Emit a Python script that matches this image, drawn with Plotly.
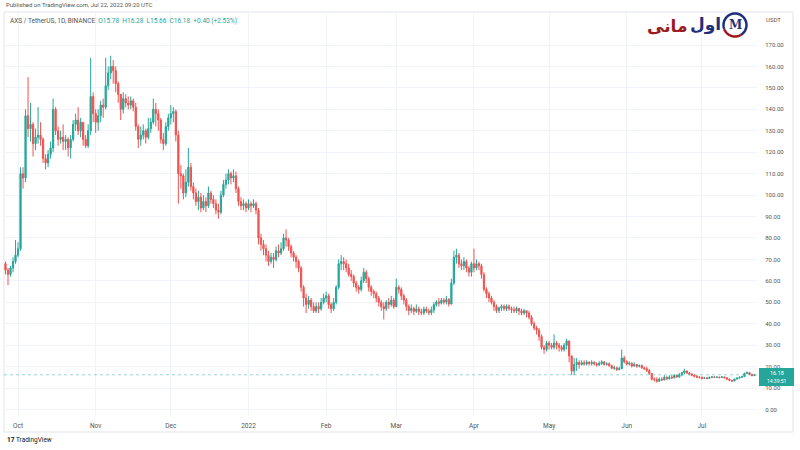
import math
import pandas as pd
import plotly.graph_objects as go

# ---------------- data (AXS/USDT daily) ----------------
start_date = "2021-09-26"
first_open = 68

closes = [
    65, 63, 66, 69, 72, 75, 110, 108, 137, 131,
    133, 124, 127, 128, 126, 117, 115, 119, 122, 140,
    130, 126, 127, 125, 126, 122, 126, 133, 135, 130,
    134, 126, 123, 130, 146, 138, 134, 137, 142, 141,
    151, 157, 160, 158, 152, 147, 140, 145, 143, 142,
    144, 141, 132, 126, 128, 130, 127, 131, 134, 140,
    138, 135, 126, 124, 132, 136, 138, 139, 128, 110,
    109, 101, 106, 113, 104, 101, 97, 99, 94, 97,
    95, 101, 98, 96, 93, 92, 100, 105, 107, 110,
    108, 109, 103, 97, 95, 96, 94, 96, 95, 96,
    93, 80, 77, 75, 72, 69, 71, 70, 74, 73,
    75, 80, 79, 76, 73, 71, 69, 66, 57, 52,
    49, 51, 48, 46, 48, 47, 50, 52, 53, 49,
    47, 50, 57, 68, 69, 68, 66, 63, 62, 59,
    57, 56, 60, 64, 61, 57, 55, 54, 52, 50,
    48, 47, 50, 49, 51, 48, 57, 56, 53, 51,
    48.0, 46.2, 47.1, 45.8, 46.9, 45.6, 45.1, 46.8, 45.9, 45.2,
    46.4, 48.9, 50.2, 49.6, 51.0, 50.1, 51.3, 49.2, 59, 71,
    72, 68, 67, 69, 66, 64, 68, 66, 68, 67,
    63, 56, 54, 52, 50, 48, 46.2, 47.4, 48.1, 47.0,
    48.2, 47.1, 46.5, 46.0, 47.2, 45.9, 45.0, 46.1, 45.0, 43,
    40, 38, 37, 34, 29, 28, 31, 30, 29, 31,
    30, 29, 28, 30, 32, 25, 18, 21, 22, 21,
    21.8, 21.2, 22.1, 21.4, 22.0, 21.3, 20.8, 21.5, 22.2, 21.0,
    21.3, 20.4, 19.2, 19.5, 18.6, 19.0, 24.0, 22.3, 21.2, 21.6,
    20.3, 21.0, 20.2, 20.5, 19.4, 19.0, 18.2, 16.8, 14.2, 14.0,
    13.2, 14.1, 13.8, 15.0, 14.3, 15.1, 14.8, 15.9, 15.2, 16.2,
    17.1, 18.0, 17.0, 16.5, 16.0, 15.5, 15.1, 14.9, 14.5, 14.8,
    14.5, 15, 15.2, 15, 15.1, 14.9, 15.2, 14.8, 14.2, 13.6,
    13.3, 14.2, 14.6, 15, 15.3, 16.8, 17.2, 16.4, 15.78, 16.18,
]

highs = [
    69, 66, 67, 71, 79, 78, 113, 113, 140, 155,
    143, 134, 131, 141, 134, 127, 119, 121, 125, 145,
    141, 132, 130, 133, 128, 127, 128, 135, 138, 141,
    136, 134, 128, 133, 164, 148, 140, 140, 144, 145,
    164, 160, 165, 163, 160, 153, 147, 148, 147, 146,
    146, 145, 143, 133, 132, 133, 131, 136, 136, 145,
    143, 140, 136, 129, 134, 138, 142, 141, 140, 130,
    114, 110, 112, 122, 115, 106, 103, 102, 101, 100,
    99, 104, 102, 100, 98, 96, 102, 107, 110, 112,
    111, 112, 111, 104, 99, 98, 97, 98, 97, 98,
    97, 94, 82, 79, 77, 74, 73, 73, 76, 77,
    78, 82, 84, 80, 77, 74, 72, 70, 67, 58,
    54, 53, 52, 50, 50, 50, 52, 54, 55, 54,
    50, 52, 58, 70, 72, 71, 70, 68, 65, 63,
    60, 58, 62, 66, 65, 62, 58, 56, 55, 53,
    51, 50, 51, 52, 53, 52, 61, 58, 57, 54,
    52, 49, 49, 48, 49, 48, 47, 48, 48, 47,
    48, 50, 51, 52, 52, 52, 53, 52, 61, 74,
    75, 73, 70, 71, 70, 67, 69, 75, 70, 69,
    68, 64, 57, 55, 53, 51, 49, 48, 49, 49,
    49, 49, 48, 48, 48, 47, 47, 47, 46, 46,
    44, 41, 39, 38, 35, 30, 32, 32, 31, 35,
    32, 31, 30, 31, 33, 32, 25, 24, 24, 23,
    23, 23, 23, 22.5, 23, 22.5, 22, 22.5, 23, 22.5,
    22, 22, 21, 20.5, 20, 20, 28, 25, 23, 22.5,
    22, 22, 21, 21, 21, 20, 20, 19, 17, 15,
    15, 15, 15, 16, 15.5, 16, 16, 16.5, 16.2, 17,
    17.5, 19, 18.2, 17.5, 17, 16.5, 16, 15.5, 15.5, 15.2,
    15, 15.3, 15.6, 15.5, 15.5, 15.3, 15.6, 15.3, 15, 14.3,
    13.8, 14.4, 15, 15.4, 15.7, 17.2, 17.8, 17.3, 16.6, 16.28,
]

lows = [
    63, 58, 62, 64, 68, 71, 74, 103, 106, 127,
    125, 118, 121, 124, 123, 115, 112, 113, 117, 120,
    128, 123, 124, 121, 121, 118, 117, 125, 130, 128,
    127, 123, 122, 122, 128, 134, 129, 130, 134, 136,
    140, 149, 154, 152, 148, 143, 135, 138, 141, 140,
    140, 139, 130, 122, 123, 126, 124, 126, 129, 133,
    132, 130, 124, 121, 123, 130, 133, 134, 125, 96,
    103, 98, 99, 104, 102, 98, 95, 93, 92, 93,
    92, 94, 96, 94, 91, 89, 91, 99, 103, 105,
    105, 106, 101, 95, 93, 93, 92, 93, 92, 94,
    91, 77, 74, 72, 69, 67, 68, 66, 69, 71,
    72, 74, 76, 74, 71, 69, 66, 64, 55, 48,
    45, 47, 46, 45, 45, 45, 46, 49, 50, 47,
    45, 46, 49, 56, 65, 65, 64, 62, 60, 57,
    55, 54, 55, 59, 59, 55, 53, 52, 50, 48,
    46, 42, 46, 47, 48, 47, 48, 54, 51, 49,
    46, 44, 45, 44, 45, 44, 44, 44, 45, 44,
    44, 45, 48, 48, 49, 49, 49, 48, 49, 58,
    68, 66, 65, 65, 64, 62, 62, 64, 65, 65,
    61, 55, 52, 50, 49, 46, 45, 45, 46, 46,
    46, 46, 45, 45, 45, 44, 44, 44, 43, 42,
    39, 37, 35, 32, 28, 26, 27, 28, 28, 28,
    28, 27, 27, 27, 28, 22, 16, 16, 18, 19,
    20.5, 20.5, 20.5, 20.5, 20.5, 20.5, 20, 20.3, 20.8, 20.5,
    20.5, 20, 18.8, 18.5, 18, 18.3, 18.8, 21.5, 20.5, 20.5,
    19.6, 20, 19.5, 19.6, 19, 18.5, 17.5, 16.2, 13.5, 13,
    12.5, 13, 13.2, 13.6, 13.8, 14, 14.2, 14.5, 14.8, 14.8,
    15.5, 16.5, 16.5, 16, 15.5, 15, 14.6, 14.5, 14, 14.2,
    14.1, 14.3, 14.6, 14.6, 14.7, 14.5, 14.7, 14.5, 13.8, 13.2,
    12.8, 13.2, 14, 14.5, 14.8, 15.2, 16.5, 16, 15.5, 15.66,
]

month_ticks = ["2021-10-01", "2021-11-01", "2021-12-01", "2022-01-01", "2022-02-01",
               "2022-03-01", "2022-04-01", "2022-05-01", "2022-06-01", "2022-07-01"]
month_labels = ["Oct", "Nov", "Dec", "2022", "Feb", "Mar", "Apr", "May", "Jun", "Jul"]
price_ticks = [0, 10, 20, 30, 40, 50, 60, 70, 80, 90, 100, 110, 120, 130, 140, 150, 160, 170]
last_price = 16.18

# ---------------- build ----------------
dates = pd.date_range(start_date, periods=len(closes), freq="D")
opens = [first_open] + closes[:-1]
highs_c = [max(h, o, c) for h, o, c in zip(highs, opens, closes)]
lows_c = [min(l, o, c) for l, o, c in zip(lows, opens, closes)]

GREEN = "#26a69a"
RED = "#ef5350"

fig = go.Figure(go.Candlestick(
    x=dates, open=opens, high=highs_c, low=lows_c, close=closes,
    increasing=dict(line=dict(color=GREEN, width=1), fillcolor=GREEN),
    decreasing=dict(line=dict(color=RED, width=1), fillcolor=RED),
    whiskerwidth=0,
    hoverinfo="skip",
))

W, H = 800, 450
ML, MR, MT, MB = 4, 43, 12, 35
PW, PH = W - ML - MR, H - MT - MB


def px_x(x):
    return (x - ML) / PW


def px_y(y):
    return (H - MB - y) / PH


x0 = pd.Timestamp(start_date) - pd.Timedelta(hours=14.4)
x1 = pd.Timestamp(start_date) + pd.Timedelta(days=300.0)

FONT = "Roboto, Arial, sans-serif"
fig.update_layout(
    width=W, height=H,
    margin=dict(l=ML, r=MR, t=MT, b=MB),
    paper_bgcolor="white", plot_bgcolor="white",
    showlegend=False,
    font=dict(family=FONT, color="#555"),
    xaxis=dict(
        type="date", range=[x0, x1], rangeslider=dict(visible=False),
        tickvals=month_ticks, ticktext=month_labels,
        showgrid=True, gridcolor="#f0f3fa", gridwidth=1,
        ticks="outside", ticklen=4, tickcolor="rgba(0,0,0,0)",
        tickfont=dict(size=6.5, color="#555"),
        zeroline=False, showline=False, fixedrange=True,
    ),
    yaxis=dict(
        side="right", range=[-2.566, 185.4],
        tickvals=price_ticks, tickformat=".2f",
        showgrid=True, gridcolor="#f0f3fa", gridwidth=1,
        ticks="outside", ticklen=6, tickcolor="rgba(0,0,0,0)",
        tickfont=dict(size=6, color="#555"),
        zeroline=False, showline=False, fixedrange=True,
    ),
)

shapes = []
# chart frame
shapes.append(dict(type="rect", xref="paper", yref="paper",
                   x0=0, x1=px_x(793), y0=px_y(432), y1=px_y(12),
                   line=dict(color="#e0e3eb", width=1), fillcolor="rgba(0,0,0,0)", layer="below"))
# last price dotted line (faint)
shapes.append(dict(type="line", xref="paper", yref="y", x0=0, x1=1, y0=last_price, y1=last_price,
                   line=dict(color="rgba(38,166,154,0.45)", width=1, dash="dot")))
# price tag box
shapes.append(dict(type="rect", xref="paper", yref="paper",
                   x0=px_x(759), x1=px_x(794), y0=px_y(386), y1=px_y(368),
                   line=dict(width=0), fillcolor=GREEN))


def circle_path(cx, cy, r, a0, a1, n=40):
    pts = []
    for k in range(n + 1):
        a = math.radians(a0 + (a1 - a0) * k / n)
        pts.append((px_x(cx + r * math.cos(a)), px_y(cy - r * math.sin(a))))
    return "M " + " L ".join(f"{x:.5f},{y:.5f}" for x, y in pts)


# logo circle (navy) and red swoosh
shapes.append(dict(type="path", xref="paper", yref="paper",
                   path=circle_path(735, 25, 11.5, -60, 200),
                   line=dict(color="#1f2f7a", width=2.5)))
shapes.append(dict(type="path", xref="paper", yref="paper",
                   path=circle_path(735, 25, 11.5, 200, 300),
                   line=dict(color="#a3171c", width=2.5)))
fig.update_layout(shapes=shapes)

ann = []
ann.append(dict(xref="paper", yref="paper", x=0, y=px_y(5), xanchor="left", yanchor="middle",
                text="Published on TradingView.com, Jul 22, 2022 09:20 UTC",
                showarrow=False, font=dict(size=6, color="#555")))
ann.append(dict(xref="paper", yref="paper", x=px_x(8), y=px_y(20.5), xanchor="left", yanchor="middle",
                text="AXS / TetherUS, 1D, BINANCE  "
                     f"<span style='color:{GREEN}'>O15.78  H16.28  L15.66  C16.18  +0.40 (+2.53%)</span>",
                showarrow=False, font=dict(size=6.5, color="#555")))
ann.append(dict(xref="paper", yref="paper", x=px_x(764), y=px_y(20), xanchor="left", yanchor="middle",
                text="USDT", showarrow=False, font=dict(size=6, color="#555")))
ann.append(dict(xref="paper", yref="paper", x=px_x(776.5), y=px_y(373), xanchor="center", yanchor="middle",
                text="16.18", showarrow=False, font=dict(size=5.5, color="white")))
ann.append(dict(xref="paper", yref="paper", x=px_x(776.5), y=px_y(381), xanchor="center", yanchor="middle",
                text="14:39:51", showarrow=False, font=dict(size=5, color="white")))
# logo text
ann.append(dict(xref="paper", yref="paper", x=px_x(667), y=px_y(26), xanchor="center", yanchor="middle",
                text="<b>مانی</b>", showarrow=False,
                font=dict(size=17, color="#9b1b1f", family="DejaVu Sans")))
ann.append(dict(xref="paper", yref="paper", x=px_x(705), y=px_y(25), xanchor="center", yanchor="middle",
                text="<b>اول</b>", showarrow=False,
                font=dict(size=17, color="#1f2f7a", family="DejaVu Sans")))
ann.append(dict(xref="paper", yref="paper", x=px_x(735), y=px_y(25), xanchor="center", yanchor="middle",
                text="<b>M</b>", showarrow=False,
                font=dict(size=12, color="#1f2f7a", family="DejaVu Serif")))
# TradingView footer
ann.append(dict(xref="paper", yref="paper", x=px_x(5), y=px_y(440), xanchor="left", yanchor="middle",
                text="<b>17</b> TradingView", showarrow=False,
                font=dict(size=6.5, color="#131722")))
fig.update_layout(annotations=ann)

fig.write_html("out.html")
